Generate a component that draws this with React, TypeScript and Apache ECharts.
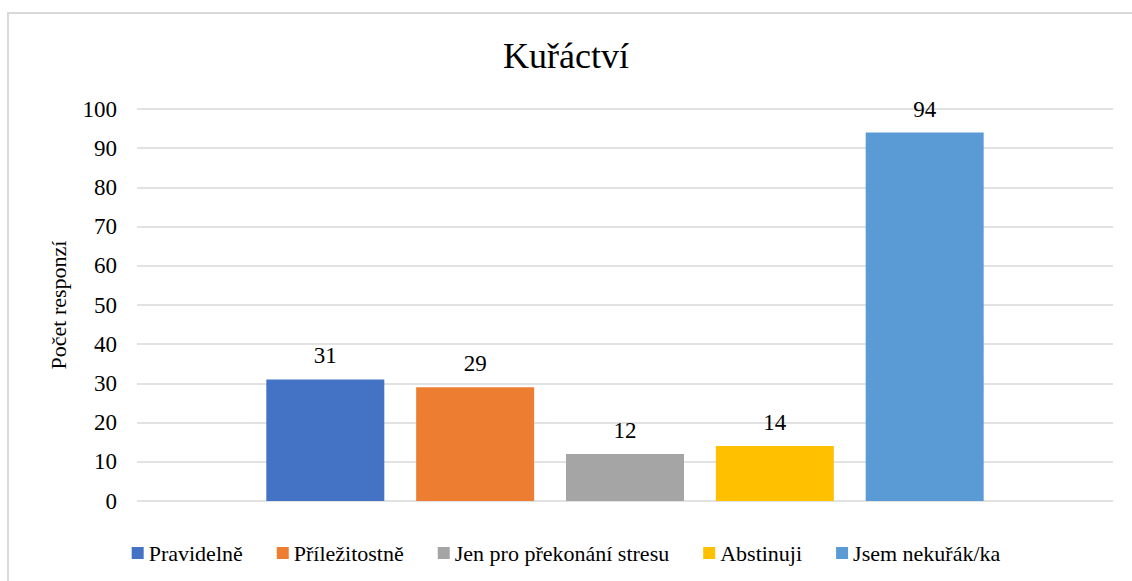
import React, { useEffect, useRef } from "react";
import * as echarts from "echarts";

const categories = ["Kuřáctví"];
const seriesNames = ["Pravidelně", "Příležitostně", "Jen pro překonání stresu", "Abstinuji", "Jsem nekuřák/ka"];
const seriesValues = [31, 29, 12, 14, 94];
const seriesColors = ["#4472C4", "#ED7D31", "#A5A5A5", "#FFC000", "#5B9BD5"];
const yTicks = { min: 0, max: 100, interval: 10 };

const FONT = "Liberation Serif, Times New Roman, serif";

function buildOption() {
  return {
    animation: false,
    textStyle: { fontFamily: FONT, fontSize: 23, color: "#000" },
    title: {
      text: "Kuřáctví",
      left: "center",
      top: 33,
      textStyle: { fontFamily: FONT, fontSize: 36, fontWeight: "normal", color: "#000" },
    },
    legend: {
      top: 537,
      left: "center",
      itemWidth: 12,
      itemHeight: 12,
      itemGap: 34,
      icon: "rect",
      textStyle: { fontFamily: FONT, fontSize: 22, color: "#000" },
      data: seriesNames,
    },
    grid: { left: 137, right: 19, top: 109, bottom: 80 },
    xAxis: {
      type: "category",
      data: categories,
      axisLabel: { show: false },
      axisTick: { show: false },
      axisLine: { show: false },
    },
    yAxis: {
      type: "value",
      min: yTicks.min,
      max: yTicks.max,
      interval: yTicks.interval,
      name: "Počet responzí",
      nameLocation: "middle",
      nameGap: 68,
      nameRotate: 90,
      nameTextStyle: { fontFamily: FONT, fontSize: 22, color: "#000" },
      axisLabel: { fontFamily: FONT, fontSize: 23, color: "#000", margin: 20 },
      axisLine: { show: false },
      axisTick: { show: false },
      splitLine: { lineStyle: { color: "#D9D9D9", width: 1.5 } },
    },
    series: seriesNames.map((name, i) => ({
      name,
      type: "bar",
      data: [seriesValues[i]],
      itemStyle: { color: seriesColors[i] },
      barGap: "27%",
      barCategoryGap: "26.5%",
      label: { show: true, position: "top", distance: 12, fontFamily: FONT, fontSize: 23, color: "#000" },
    })),
  };
}

export default function App() {
  const ref = useRef<HTMLDivElement>(null);
  useEffect(() => {
    if (!ref.current) return;
    const chart = echarts.init(ref.current, undefined, { renderer: "svg" });
    let alive = true;
    const render = () => {
      if (!alive) return;
      chart.clear();
      chart.setOption(buildOption());
    };
    render();
    try {
      const fs: any = (document as any).fonts;
      if (fs && fs.load) {
        Promise.all([fs.load('22px "Liberation Serif"'), fs.load('36px "Liberation Serif"')])
          .then(render)
          .catch(() => {});
      }
    } catch (e) {}
    const t1 = setTimeout(render, 150);
    const t2 = setTimeout(render, 400);
    return () => {
      alive = false;
      clearTimeout(t1);
      clearTimeout(t2);
      chart.dispose();
    };
  }, []);
  return (
    <div style={{ position: "absolute", left: 0, top: 0, width: 1132, height: 581, background: "#fff", overflow: "hidden" }}>
      <div
        style={{
          position: "absolute",
          left: 7,
          top: 12,
          width: 1140,
          height: 600,
          border: "2px solid #D9D9D9",
          boxSizing: "border-box",
        }}
      />
      <div ref={ref} style={{ position: "absolute", left: 0, top: 0, width: 1132, height: 581 }} />
    </div>
  );
}
